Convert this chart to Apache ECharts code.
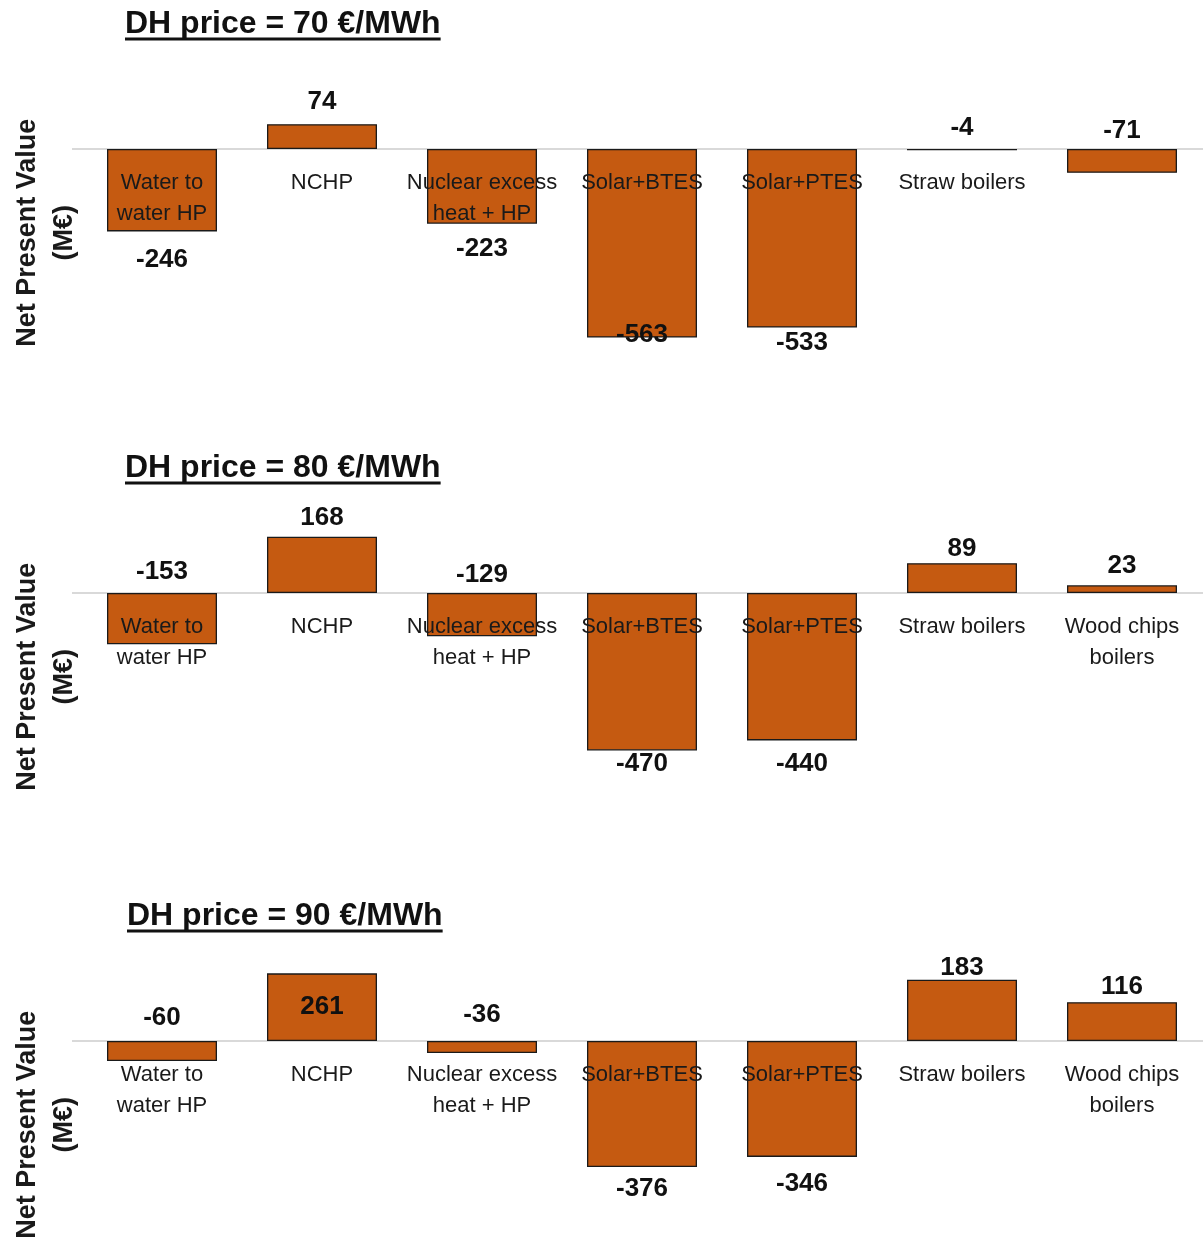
<!DOCTYPE html>
<html><head><meta charset="utf-8">
<script src="https://cdn.jsdelivr.net/npm/echarts@6/dist/echarts.min.js"></script>
<style>html,body{margin:0;padding:0;background:#fff}#c{width:1203px;height:1239px}</style>
</head><body><div id="c"></div>
<script>
// ---- data ----
const categories = ['Water to\nwater HP', 'NCHP', 'Nuclear excess\nheat + HP', 'Solar+BTES', 'Solar+PTES', 'Straw boilers', 'Wood chips\nboilers'];
const categories70 = ['Water to\nwater HP', 'NCHP', 'Nuclear excess\nheat + HP', 'Solar+BTES', 'Solar+PTES', 'Straw boilers', ''];
const panelTitles = ['DH price = 70 €/MWh', 'DH price = 80 €/MWh', 'DH price = 90 €/MWh'];
const npv70 = [-246, 74, -223, -563, -533, -4, -71];
const npv80 = [-153, 168, -129, -470, -440, 89, 23];
const npv90 = [-60, 261, -36, -376, -346, 183, 116];
const yAxisName = 'Net Present Value\n(M€)';
const yMin = -700, yMax = 200;

// ---- label placement (style) ----
const labelPlace = [
  [['bottom', 15], ['top', 9], ['bottom', 12], ['bottom', -16], ['bottom', 2], ['top', 8], ['top', 5]],
  [['top', 8], ['top', 6], ['top', 5], ['bottom', 0], ['bottom', 10], ['top', 1], ['top', 6]],
  [['top', 10], ['inside', 0], ['top', 13], ['bottom', 9], ['bottom', 14], ['top', -1], ['top', 2]]
];

const FONT = "'Liberation Sans', Arial, sans-serif";
const ORANGE = '#c55a11';
const panels = [
  { cats: categories70, vals: npv70, zero: 149, titleLeft: 125, titleTop: 8, ul: 39 },
  { cats: categories, vals: npv80, zero: 593, titleLeft: 125, titleTop: 452, ul: 483 },
  { cats: categories, vals: npv90, zero: 1041, titleLeft: 127, titleTop: 900, ul: 931 }
];
const scale = 0.335; // px per M€ (layout)
const gridH = (yMax - yMin) * scale;

const chart = echarts.init(document.getElementById('c'), null, { renderer: 'canvas' });

const option = {
  backgroundColor: '#ffffff',
  animation: false,
  title: panels.map((p, i) => ({
    text: panelTitles[i], left: p.titleLeft, top: p.titleTop, padding: 0,
    textStyle: { fontFamily: FONT, fontSize: 32, fontWeight: 'bold', color: '#111' }
  })),
  grid: panels.map(p => ({ left: 82, width: 1120, top: p.zero - yMax * scale, height: gridH, containLabel: false, outerBoundsMode: 'none' })),
  xAxis: panels.map((p, i) => ({
    type: 'category', gridIndex: i, data: p.cats, z: 10,
    offset: -(-yMin * scale),
    axisLine: { show: false, onZero: false },
    axisTick: { show: false },
    axisLabel: { interval: 0, margin: 18, fontFamily: FONT, fontSize: 22, lineHeight: 31, color: '#1a1a1a', align: 'center' },
    splitLine: { show: false }
  })),
  yAxis: panels.map((p, i) => ({
    type: 'value', gridIndex: i, min: yMin, max: yMax,
    axisLine: { show: false }, axisTick: { show: false }, axisLabel: { show: false }, splitLine: { show: false },
    name: yAxisName, nameLocation: 'middle', nameGap: -1, nameRotate: 90,
    nameTextStyle: { fontFamily: FONT, fontSize: 27, fontWeight: 'bold', lineHeight: 37, color: '#1a1a1a', align: 'center' }
  })),
  series: panels.map((p, i) => ({
    type: 'bar', xAxisIndex: i, yAxisIndex: i, barWidth: '68.75%',
    itemStyle: { color: ORANGE, borderColor: '#1a1a1a', borderWidth: 1.3 },
    data: p.vals.map((v, j) => ({
      value: v,
      label: {
        show: true, position: labelPlace[i][j][0], distance: labelPlace[i][j][1],
        fontFamily: FONT, fontSize: 26, fontWeight: 'bold', color: '#111'
      }
    }))
  })),
  graphic: []
};
chart.setOption(option);

// underline titles and draw the zero line (under the bars)
const ctx = document.createElement('canvas').getContext('2d');
ctx.font = 'bold 32px ' + FONT;
const g = [];
panels.forEach((p, i) => {
  const w = ctx.measureText(panelTitles[i]).width;
  g.push({ type: 'line', z: 0, shape: { x1: p.titleLeft, y1: p.ul, x2: p.titleLeft + w, y2: p.ul }, style: { stroke: '#111', lineWidth: 3 } });
  const zy = Math.round(chart.convertToPixel({ yAxisIndex: i }, 0));
  g.push({ type: 'line', z: 0, shape: { x1: 72, y1: zy, x2: 1203, y2: zy }, style: { stroke: '#d9d9d9', lineWidth: 2 } });
});
chart.setOption({ graphic: g });
</script></body></html>
